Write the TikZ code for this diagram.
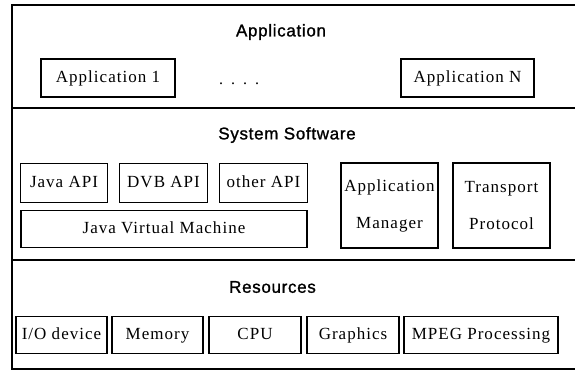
\documentclass[tikz,border=0pt]{standalone}
\usepackage{fontspec}
\setmainfont{Liberation Serif}
\newfontfamily\titlefont{Liberation Sans}[LetterSpace=4,FakeBold=1.2]
\newfontfamily\boxfont{Liberation Serif}[LetterSpace=6]
\begin{document}
\begin{tikzpicture}[x=1pt,y=-1pt,
  frameline/.style={line width=1.4pt},
  layertitle/.style={font=\titlefont\fontsize{17}{19}\selectfont, inner sep=0pt},
  compbox/.style={draw, line width=1.2pt, inner sep=0pt, align=center,
    font=\boxfont\fontsize{17}{37}\selectfont},
  oneline/.style={text height=11.5pt, text depth=3.5pt},
  dotstext/.style={font=\fontsize{16}{18}\selectfont, inner sep=0pt}]
\useasboundingbox (0,0) rectangle (575,370);
% layer frame
\draw[frameline] (575,5) -- (12,5) -- (12,369) -- (575,369);
\draw[frameline] (12,108) -- (575,108);
\draw[frameline] (12,260) -- (575,260);
% Application layer
\node[layertitle] (tapp) at (281,32) {Application};
\node[compbox, oneline, minimum width=134pt, minimum height=38pt] (app1) at (108,78) {Application 1};
\node[dotstext] (dots) at (239,84) {.\ \ .\ \ .\ \ .};
\node[compbox, oneline, minimum width=133pt, minimum height=38pt] (appN) at (467.5,78) {Application N};
% System software layer
\node[layertitle] (tsys) at (287,135) {System Software};
\node[compbox, oneline, minimum width=87pt, minimum height=39pt] (japi) at (64,183) {Java API};
\node[compbox, oneline, minimum width=88pt, minimum height=39pt] (dapi) at (163.5,183) {DVB API};
\node[compbox, oneline, minimum width=88pt, minimum height=39pt] (oapi) at (263.5,183) {other API};
\node[compbox, oneline, minimum width=286pt, minimum height=37pt] (jvm) at (164,229) {Java Virtual Machine};
\node[compbox, minimum width=97pt, minimum height=85pt] (amgr) at (389.5,205.5) {Application\\Manager};
\node[compbox, minimum width=97pt, minimum height=85pt] (tprot) at (501.5,205.5) {Transport\\Protocol};
% Resources layer
\node[layertitle] (tres) at (272.5,287) {Resources};
\node[compbox, oneline, minimum width=91pt, minimum height=37pt] (io) at (61.5,335) {I/O device};
\node[compbox, oneline, minimum width=91pt, minimum height=37pt] (mem) at (157.5,335) {Memory};
\node[compbox, oneline, minimum width=92pt, minimum height=37pt] (cpu) at (255,335) {CPU};
\node[compbox, oneline, minimum width=92pt, minimum height=37pt] (gfx) at (353,335) {Graphics};
\node[compbox, oneline, minimum width=154pt, minimum height=37pt] (mpeg) at (481,335) {MPEG Processing};
\end{tikzpicture}
\end{document}
